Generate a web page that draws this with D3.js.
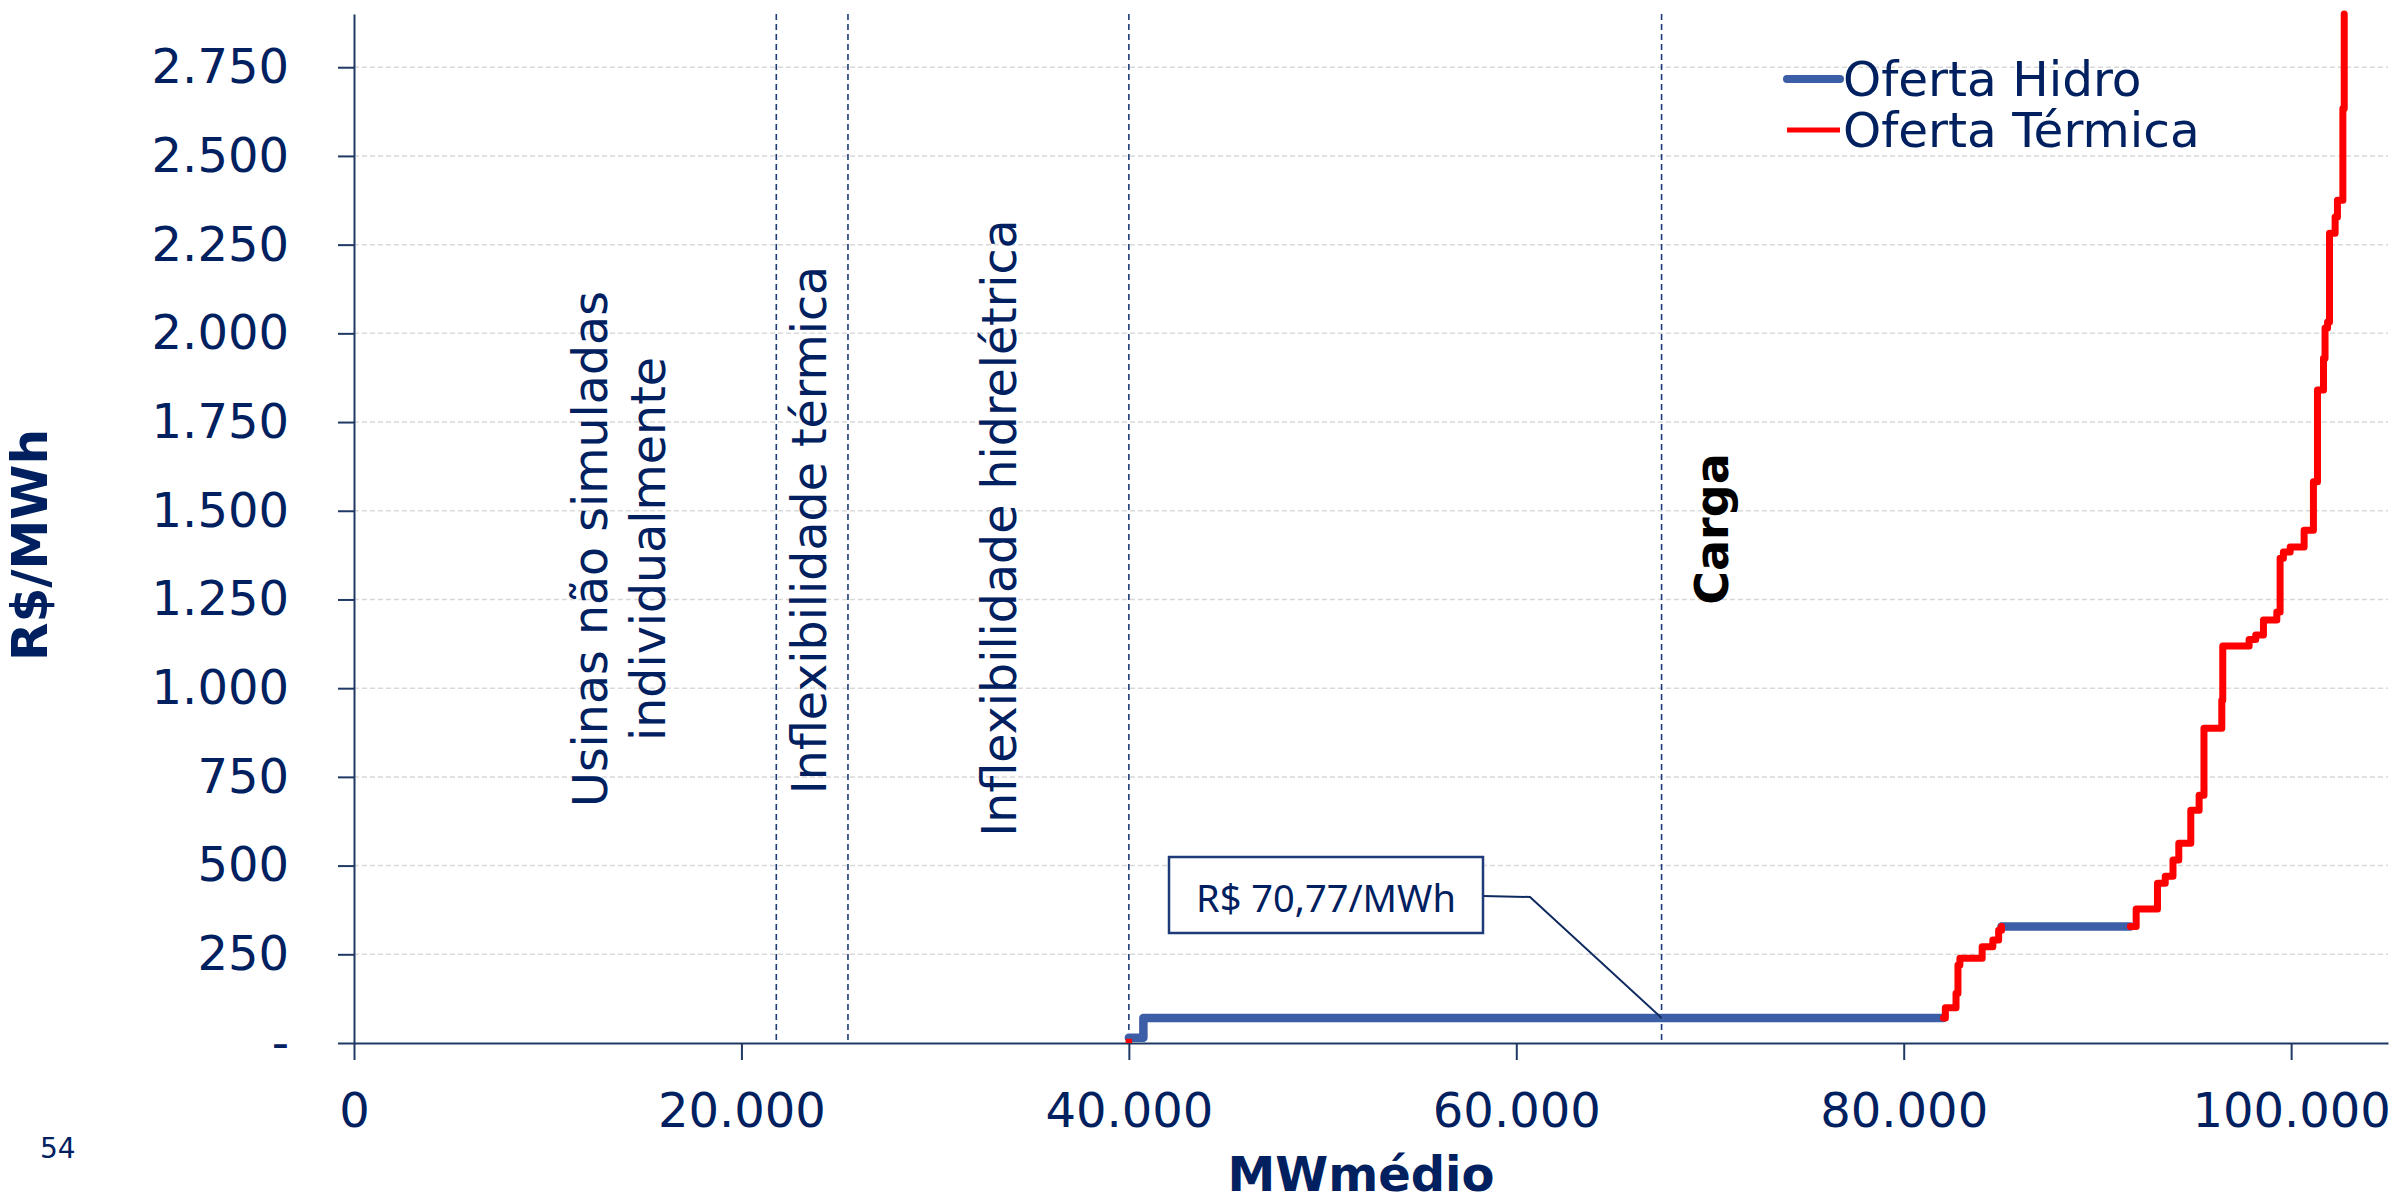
<!DOCTYPE html>
<html>
<head>
<meta charset="utf-8">
<script src="https://cdn.jsdelivr.net/npm/d3@7"></script>
<style>
  html, body { margin: 0; padding: 0; background: #ffffff; }
  svg { display: block; }
</style>
</head>
<body>
<script>
// Axis ticks (R$/MWh and MWmédio)
const yTicks = [0, 250, 500, 750, 1000, 1250, 1500, 1750, 2000, 2250, 2500, 2750];
const xTicks = [0, 20000, 40000, 60000, 80000, 100000];

// Supply stack boundaries (MWmédio)
const boundaries = [21800, 25500, 40000, 67500];
const loadMW = 67500;
const hydroPrice = 70.77;

// Hydro offer: steps [MWmédio, R$/MWh]
const hidroSeg1 = [[40000, 15], [40750, 70.77], [82050, 70.77]];
const hidroSeg2 = [[85050, 328], [91700, 328]];

// Thermal offer: steps [MWmédio, R$/MWh]
const termSeg0 = [[40000, 0], [40000, 12]];
const termSeg1 = [[82050, 70.77], [82150, 99], [82700, 140], [82800, 220], [82900, 239],
                  [84050, 271], [84600, 290], [84900, 318], [85050, 328]];
const termSeg2 = [[91700, 328], [92000, 378], [93100, 450], [93500, 470], [93900, 516],
                  [94200, 563], [94820, 656], [95250, 698], [95500, 887], [96420, 966],
                  [96470, 1119], [97830, 1137], [98170, 1150], [98570, 1192], [99260, 1215],
                  [99430, 1366], [99600, 1384], [99950, 1398], [100670, 1445], [101150, 1582],
                  [101360, 1840], [101670, 1930], [101750, 2015], [101880, 2032], [101980, 2282],
                  [102270, 2328], [102390, 2375], [102670, 2634], [102740, 2900]];

const legendItems = ["Oferta Hidro", "Oferta Térmica"];
const regionTexts = [["Usinas não simuladas", "individualmente"], ["Inflexibilidade térmica"], ["Inflexibilidade hidrelétrica"]];

const W = 2394, H = 1203;
const NAVY = "#002060", AXIS = "#1f3864", BLUE = "#3b5ea6", RED = "#ff0000";
const FONT = "'DejaVu Sans', Verdana, sans-serif";

const loc = d3.formatLocale({ decimal: ",", thousands: ".", grouping: [3], currency: ["R$ ", ""] });
const fmt = loc.format(",");

const x = d3.scaleLinear().domain([0, 105000]).range([354, 2388]);
const y = d3.scaleLinear().domain([0, 2900]).range([1043, 14]);

const svg = d3.select("body").append("svg").attr("width", W).attr("height", H)
  .style("font-family", FONT);
svg.append("rect").attr("width", W).attr("height", H).attr("fill", "#fff");

// horizontal gridlines
svg.append("g").selectAll("line").data(yTicks.filter(d => d > 0)).join("line")
  .attr("x1", x(0)).attr("x2", x.range()[1])
  .attr("y1", d => y(d)).attr("y2", d => y(d))
  .attr("stroke", "#d9d9d9").attr("stroke-width", 1.5).attr("stroke-dasharray", "5,3");

// stack boundary lines
svg.append("g").selectAll("line").data(boundaries).join("line")
  .attr("x1", d => x(d)).attr("x2", d => x(d))
  .attr("y1", y.range()[1]).attr("y2", y(0))
  .attr("stroke", "#1f3a78").attr("stroke-width", 1.6).attr("stroke-dasharray", "6,4");

// axes
const gx = svg.append("g").attr("transform", `translate(0,${y(0)})`)
  .call(d3.axisBottom(x).tickValues(xTicks).tickFormat(fmt).tickSizeInner(17).tickSizeOuter(0).tickPadding(33));
const gy = svg.append("g").attr("transform", `translate(${x(0)},0)`)
  .call(d3.axisLeft(y).tickValues(yTicks).tickFormat(d => d === 0 ? "-" : fmt(d)).tickSizeInner(16).tickSizeOuter(0).tickPadding(49));
[gx, gy].forEach(g => {
  g.select(".domain").attr("stroke", AXIS).attr("stroke-width", 2);
  g.selectAll(".tick line").attr("stroke", AXIS).attr("stroke-width", 2);
  g.selectAll(".tick text").attr("fill", NAVY).style("font-family", FONT).style("font-size", "48px");
});

// offer curves
const line = d3.line().x(d => x(d[0])).y(d => y(d[1])).curve(d3.curveStepAfter);
const curves = svg.append("g").attr("fill", "none").attr("stroke-linejoin", "round").attr("stroke-linecap", "round");
[hidroSeg1, hidroSeg2].forEach(seg => curves.append("path").attr("d", line(seg))
  .attr("stroke", BLUE).attr("stroke-width", 8.5));
curves.append("path").attr("d", line(termSeg0)).attr("stroke", RED).attr("stroke-width", 6.5).attr("stroke-linecap", "butt");
[termSeg1, termSeg2].forEach(seg => curves.append("path").attr("d", line(seg))
  .attr("stroke", RED).attr("stroke-width", 7));

// rotated region labels
function vText(cx, cy, lines, size, weight, color) {
  const t = svg.append("text").attr("transform", `translate(${cx},${cy}) rotate(-90)`)
    .attr("text-anchor", "middle").attr("fill", color)
    .style("font-size", size + "px").style("font-weight", weight);
  lines.forEach((s, i) => t.append("tspan").attr("x", 0).attr("y", i * 58).text(s));
  return t;
}
vText(607, 549, regionTexts[0], 47.5, "normal", NAVY);
vText(826, 530, regionTexts[1], 47.5, "normal", NAVY);
vText(1016, 528, regionTexts[2], 47.5, "normal", NAVY);
vText(1728, 529, ["Carga"], 46, "bold", "#000");

// axis titles
vText(47, 545, ["R$/MWh"], 50, "bold", NAVY);
svg.append("text").attr("x", 1361).attr("y", 1191).attr("text-anchor", "middle")
  .attr("fill", NAVY).style("font-size", "48px").style("font-weight", "bold").text("MWmédio");

// page number
svg.append("text").attr("x", 40).attr("y", 1158).attr("fill", NAVY).style("font-size", "28px").text("54");

// legend
const lg = svg.append("g");
legendItems.forEach((name, i) => {
  const cy = 79 + i * 51;
  lg.append("line").attr("x1", 1787).attr("x2", 1840).attr("y1", cy).attr("y2", cy)
    .attr("stroke", i === 0 ? BLUE : RED).attr("stroke-width", i === 0 ? 8 : 5)
    .attr("stroke-linecap", i === 0 ? "round" : "butt");
  lg.append("text").attr("x", 1843).attr("y", cy + 17).attr("fill", NAVY)
    .style("font-size", "48.5px").text(name);
});

// price callout
const box = { x: 1169, y: 857, w: 314, h: 76 };
const tip = [x(loadMW), y(hydroPrice)];
svg.append("path")
  .attr("d", `M${box.x + box.w},${box.y + 39} L1530,${box.y + 40} L${tip[0]},${tip[1]}`)
  .attr("fill", "none").attr("stroke", "#0f2a60").attr("stroke-width", 2);
svg.append("rect").attr("x", box.x).attr("y", box.y).attr("width", box.w).attr("height", box.h)
  .attr("fill", "#fff").attr("stroke", "#1f3a78").attr("stroke-width", 2.5);
svg.append("text").attr("x", box.x + box.w / 2).attr("y", 912).attr("text-anchor", "middle")
  .attr("fill", NAVY).style("font-family", "'Noto Sans', 'Open Sans', sans-serif").style("font-size", "38px")
  .text("R$ " + loc.format(".2f")(hydroPrice) + "/MWh");
</script>
</body>
</html>
